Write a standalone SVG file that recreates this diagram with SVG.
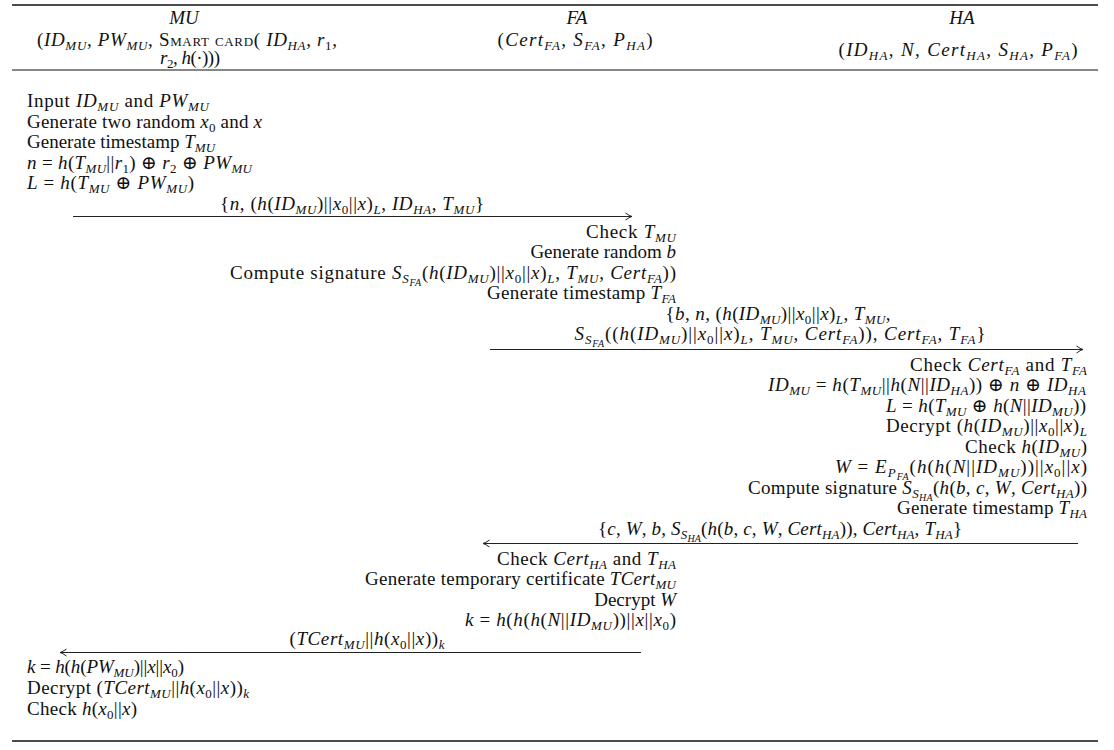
<svg xmlns="http://www.w3.org/2000/svg" width="1114" height="750" viewBox="0 0 1114 750">
<style>
text{font-family:"Liberation Serif","DejaVu Serif",serif;font-size:19px;fill:#111}
.i{font-style:italic}
.s{font-size:13px;font-style:italic;baseline-shift:-4px}
.d{font-size:13px;font-style:normal;baseline-shift:-4px}
.ss{font-size:10px;font-style:italic;baseline-shift:-3px}
.sc{font-variant:small-caps}
.m{text-anchor:middle}
.e{text-anchor:end}
.rule{stroke:#111;fill:none}
.msg{stroke:#222;stroke-width:1;fill:none}
</style>
<defs>
<marker id="ah" markerUnits="userSpaceOnUse" markerWidth="12" markerHeight="10" viewBox="-8 -5 10 10" refX="0" refY="0" orient="auto">
<path d="M-6.5,-3.5 Q-2.5,-0.6 0,0 Q-2.5,0.6 -6.5,3.5" stroke="#222" stroke-width="1" fill="none"/>
</marker>
</defs>
<g id="rules">
<line class="rule" x1="12" y1="5" x2="1098" y2="5" stroke-width="1.6"/>
<line class="rule" x1="12" y1="70" x2="1098" y2="70" stroke-width="1.2"/>
<line class="rule" x1="12" y1="741" x2="1098" y2="741" stroke-width="1.6"/>
</g>
<g id="mu">
<text class="m i" x="184" y="24">MU</text>
<text class="m" x="187" y="46" textLength="300">(<tspan class="i">ID</tspan><tspan class="s">MU</tspan>, <tspan class="i">PW</tspan><tspan class="s">MU</tspan>, <tspan class="sc">Smart card</tspan>( <tspan class="i">ID</tspan><tspan class="s">HA</tspan>, <tspan class="i">r</tspan><tspan class="d">1</tspan>,</text>
<text class="m" x="190" y="64" textLength="60"><tspan class="i">r</tspan><tspan class="d">2</tspan>, <tspan class="i">h</tspan>(·)))</text>
<text x="27" y="107" textLength="182">Input <tspan class="i">ID</tspan><tspan class="s">MU</tspan> and <tspan class="i">PW</tspan><tspan class="s">MU</tspan></text>
<text x="27" y="127.5" textLength="235">Generate two random <tspan class="i">x</tspan><tspan class="d">0</tspan> and <tspan class="i">x</tspan></text>
<text x="27" y="148">Generate timestamp <tspan class="i">T</tspan><tspan class="s">MU</tspan></text>
<text x="27" y="168.5" textLength="225"><tspan class="i">n</tspan> = <tspan class="i">h</tspan>(<tspan class="i">T</tspan><tspan class="s">MU</tspan>||<tspan class="i">r</tspan><tspan class="d">1</tspan>) ⊕ <tspan class="i">r</tspan><tspan class="d">2</tspan> ⊕ <tspan class="i">PW</tspan><tspan class="s">MU</tspan></text>
<text x="27" y="189" textLength="167"><tspan class="i">L</tspan> = <tspan class="i">h</tspan>(<tspan class="i">T</tspan><tspan class="s">MU</tspan> ⊕ <tspan class="i">PW</tspan><tspan class="s">MU</tspan>)</text>
<text x="27" y="673" textLength="157"><tspan class="i">k</tspan> = <tspan class="i">h</tspan>(<tspan class="i">h</tspan>(<tspan class="i">PW</tspan><tspan class="s">MU</tspan>)||<tspan class="i">x</tspan>||<tspan class="i">x</tspan><tspan class="d">0</tspan>)</text>
<text x="27" y="694" textLength="222">Decrypt (<tspan class="i">TCert</tspan><tspan class="s">MU</tspan>||<tspan class="i">h</tspan>(<tspan class="i">x</tspan><tspan class="d">0</tspan>||<tspan class="i">x</tspan>))<tspan class="s">k</tspan></text>
<text x="27" y="715" textLength="110">Check <tspan class="i">h</tspan>(<tspan class="i">x</tspan><tspan class="d">0</tspan>||<tspan class="i">x</tspan>)</text>
</g>
<g id="fa">
<text class="m i" x="577" y="24">FA</text>
<text class="m" x="575" y="46" textLength="155">(<tspan class="i">Cert</tspan><tspan class="s">FA</tspan>, <tspan class="i">S</tspan><tspan class="s">FA</tspan>, <tspan class="i">P</tspan><tspan class="s">HA</tspan>)</text>
<text class="e" x="676" y="237.5" textLength="90">Check <tspan class="i">T</tspan><tspan class="s">MU</tspan></text>
<text class="e" x="676" y="258">Generate random <tspan class="i">b</tspan></text>
<text class="e" x="676" y="278.5" textLength="446">Compute signature <tspan class="i">S</tspan><tspan class="s">S<tspan class="ss">FA</tspan></tspan>(<tspan class="i">h</tspan>(<tspan class="i">ID</tspan><tspan class="s">MU</tspan>)||<tspan class="i">x</tspan><tspan class="d">0</tspan>||<tspan class="i">x</tspan>)<tspan class="s">L</tspan>, <tspan class="i">T</tspan><tspan class="s">MU</tspan>, <tspan class="i">Cert</tspan><tspan class="s">FA</tspan>))</text>
<text class="e" x="676" y="299" textLength="189">Generate timestamp <tspan class="i">T</tspan><tspan class="s">FA</tspan></text>
<text class="e" x="676" y="564.5" textLength="179">Check <tspan class="i">Cert</tspan><tspan class="s">HA</tspan> and <tspan class="i">T</tspan><tspan class="s">HA</tspan></text>
<text class="e" x="676" y="585" textLength="311">Generate temporary certificate <tspan class="i">TCert</tspan><tspan class="s">MU</tspan></text>
<text class="e" x="676" y="605.5">Decrypt <tspan class="i">W</tspan></text>
<text class="e" x="676" y="626" textLength="211"><tspan class="i">k</tspan> = <tspan class="i">h</tspan>(<tspan class="i">h</tspan>(<tspan class="i">h</tspan>(<tspan class="i">N</tspan>||<tspan class="i">ID</tspan><tspan class="s">MU</tspan>))||<tspan class="i">x</tspan>||<tspan class="i">x</tspan><tspan class="d">0</tspan>)</text>
</g>
<g id="ha">
<text class="m i" x="962" y="24">HA</text>
<text class="m" x="958" y="56" textLength="239">(<tspan class="i">ID</tspan><tspan class="s">HA</tspan>, <tspan class="i">N</tspan>, <tspan class="i">Cert</tspan><tspan class="s">HA</tspan>, <tspan class="i">S</tspan><tspan class="s">HA</tspan>, <tspan class="i">P</tspan><tspan class="s">FA</tspan>)</text>
<text class="e" x="1087" y="370.5" textLength="177">Check <tspan class="i">Cert</tspan><tspan class="s">FA</tspan> and <tspan class="i">T</tspan><tspan class="s">FA</tspan></text>
<text class="e" x="1086" y="391" textLength="318"><tspan class="i">ID</tspan><tspan class="s">MU</tspan> = <tspan class="i">h</tspan>(<tspan class="i">T</tspan><tspan class="s">MU</tspan>||<tspan class="i">h</tspan>(<tspan class="i">N</tspan>||<tspan class="i">ID</tspan><tspan class="s">HA</tspan>)) ⊕ <tspan class="i">n</tspan> ⊕ <tspan class="i">ID</tspan><tspan class="s">HA</tspan></text>
<text class="e" x="1086" y="411.5" textLength="200"><tspan class="i">L</tspan> = <tspan class="i">h</tspan>(<tspan class="i">T</tspan><tspan class="s">MU</tspan> ⊕ <tspan class="i">h</tspan>(<tspan class="i">N</tspan>||<tspan class="i">ID</tspan><tspan class="s">MU</tspan>))</text>
<text class="e" x="1087" y="432" textLength="201">Decrypt (<tspan class="i">h</tspan>(<tspan class="i">ID</tspan><tspan class="s">MU</tspan>)||<tspan class="i">x</tspan><tspan class="d">0</tspan>||<tspan class="i">x</tspan>)<tspan class="s">L</tspan></text>
<text class="e" x="1087" y="452.5" textLength="122">Check <tspan class="i">h</tspan>(<tspan class="i">ID</tspan><tspan class="s">MU</tspan>)</text>
<text class="e" x="1087" y="473" textLength="252"><tspan class="i">W</tspan> = <tspan class="i">E</tspan><tspan class="s">P<tspan class="ss">FA</tspan></tspan>(<tspan class="i">h</tspan>(<tspan class="i">h</tspan>(<tspan class="i">N</tspan>||<tspan class="i">ID</tspan><tspan class="s">MU</tspan>))||<tspan class="i">x</tspan><tspan class="d">0</tspan>||<tspan class="i">x</tspan>)</text>
<text class="e" x="1087" y="493.5" textLength="339">Compute signature <tspan class="i">S</tspan><tspan class="s">S<tspan class="ss">HA</tspan></tspan>(<tspan class="i">h</tspan>(<tspan class="i">b</tspan>, <tspan class="i">c</tspan>, <tspan class="i">W</tspan>, <tspan class="i">Cert</tspan><tspan class="s">HA</tspan>))</text>
<text class="e" x="1087" y="514" textLength="190">Generate timestamp <tspan class="i">T</tspan><tspan class="s">HA</tspan></text>
</g>
<g id="connectors">
<line class="msg" x1="73" y1="216.5" x2="632" y2="216.5" marker-end="url(#ah)"/>
<text class="m" x="352" y="209.5" textLength="264">{<tspan class="i">n</tspan>, (<tspan class="i">h</tspan>(<tspan class="i">ID</tspan><tspan class="s">MU</tspan>)||<tspan class="i">x</tspan><tspan class="d">0</tspan>||<tspan class="i">x</tspan>)<tspan class="s">L</tspan>, <tspan class="i">ID</tspan><tspan class="s">HA</tspan>, <tspan class="i">T</tspan><tspan class="s">MU</tspan>}</text>
<line class="msg" x1="490" y1="349.5" x2="1083" y2="349.5" marker-end="url(#ah)"/>
<text class="m" x="778" y="319.5" textLength="225">{<tspan class="i">b</tspan>, <tspan class="i">n</tspan>, (<tspan class="i">h</tspan>(<tspan class="i">ID</tspan><tspan class="s">MU</tspan>)||<tspan class="i">x</tspan><tspan class="d">0</tspan>||<tspan class="i">x</tspan>)<tspan class="s">L</tspan>, <tspan class="i">T</tspan><tspan class="s">MU</tspan>,</text>
<text class="m" x="780" y="340" textLength="411"><tspan class="i">S</tspan><tspan class="s">S<tspan class="ss">FA</tspan></tspan>((<tspan class="i">h</tspan>(<tspan class="i">ID</tspan><tspan class="s">MU</tspan>)||<tspan class="i">x</tspan><tspan class="d">0</tspan>||<tspan class="i">x</tspan>)<tspan class="s">L</tspan>, <tspan class="i">T</tspan><tspan class="s">MU</tspan>, <tspan class="i">Cert</tspan><tspan class="s">FA</tspan>)), <tspan class="i">Cert</tspan><tspan class="s">FA</tspan>, <tspan class="i">T</tspan><tspan class="s">FA</tspan>}</text>
<line class="msg" x1="1078" y1="543.5" x2="483" y2="543.5" marker-end="url(#ah)"/>
<text class="m" x="780" y="534.5" textLength="364">{<tspan class="i">c</tspan>, <tspan class="i">W</tspan>, <tspan class="i">b</tspan>, <tspan class="i">S</tspan><tspan class="s">S<tspan class="ss">HA</tspan></tspan>(<tspan class="i">h</tspan>(<tspan class="i">b</tspan>, <tspan class="i">c</tspan>, <tspan class="i">W</tspan>, <tspan class="i">Cert</tspan><tspan class="s">HA</tspan>)), <tspan class="i">Cert</tspan><tspan class="s">HA</tspan>, <tspan class="i">T</tspan><tspan class="s">HA</tspan>}</text>
<line class="msg" x1="641" y1="652.5" x2="60" y2="652.5" marker-end="url(#ah)"/>
<text class="m" x="367" y="645" textLength="155">(<tspan class="i">TCert</tspan><tspan class="s">MU</tspan>||<tspan class="i">h</tspan>(<tspan class="i">x</tspan><tspan class="d">0</tspan>||<tspan class="i">x</tspan>))<tspan class="s">k</tspan></text>
</g>
</svg>
